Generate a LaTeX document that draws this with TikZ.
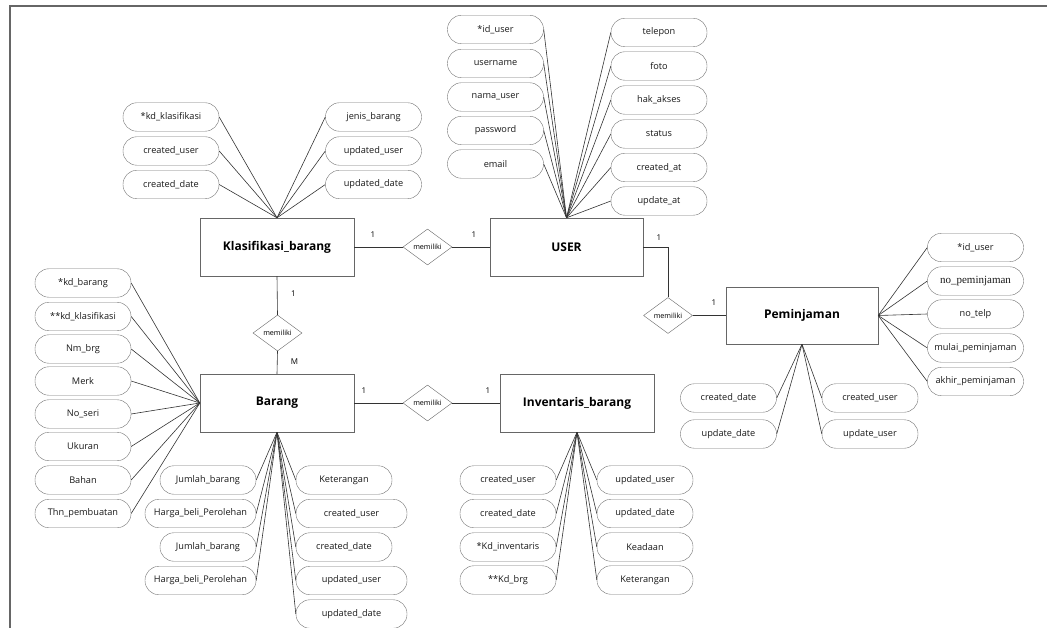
\documentclass[tikz,border=0pt]{standalone}
\usepackage{fontspec}
\setmainfont{Open Sans}
\newfontfamily\serifA{Liberation Serif}
\usetikzlibrary{shapes.geometric}
\begin{document}
\begin{tikzpicture}[x=1pt,y=-1pt,
 attr/.style={draw=black!55, rounded corners=14pt, minimum width=96pt, minimum height=28.5pt, inner sep=0pt, font=\fontsize{9.2}{10}\selectfont, text=black!90},
 wattr/.style={attr, minimum width=111pt},
 ent/.style={draw=black!60, minimum width=154pt, minimum height=58pt, inner sep=0pt, font=\bfseries\fontsize{12}{14}\selectfont},
 rel/.style={diamond, draw=black!60, minimum width=49pt, minimum height=36pt, inner sep=0pt, font=\fontsize{7.2}{8}\selectfont},
 ln/.style={draw=black!80, line width=0.6pt},
 card/.style={font=\fontsize{8}{9}\selectfont, inner sep=0pt}]
\useasboundingbox (0,0) rectangle (1047,628);
\coordinate (fa) at (10,628);
\coordinate (fb) at (10,6);
\coordinate (fc) at (1047,6);
\draw[black!60, line width=1.2pt] (fa) -- (fb) -- (fc);

% entities
\node[ent] (klas) at (277,247) {Klasifikasi\_barang};
\node[ent, minimum width=153pt] (user) at (566.5,247) {USER};
\node[ent] (barang) at (277,403) {Barang};
\node[ent] (inv) at (577,403) {Inventaris\_barang};
\node[ent, minimum width=152pt, minimum height=57pt] (pem) at (802,315.5) {Peminjaman};

% relations
\node[rel] (r1) at (427.5,247) {memiliki};
\node[rel] (r2) at (277.5,333) {memiliki};
\node[rel] (r3) at (427.5,403) {memiliki};
\node[rel] (r4) at (668,315.5) {memiliki};

\draw[ln] (klas.east) -- (r1.west);
\draw[ln] (r1.east) -- (user.west);
\draw[ln] (klas.south) -- (r2.north);
\draw[ln] (r2.south) -- (barang.north);
\draw[ln] (barang.east) -- (r3.west);
\draw[ln] (r3.east) -- (inv.west);
\draw[ln] (user.east) -| (r4.north);
\draw[ln] (r4.east) -- (pem.west);

% cardinalities
\node[card] (c1) at (373,235) {1};
\node[card] (c2) at (474,235) {1};
\node[card] (c3) at (293.5,294) {1};
\node[card] (c4) at (294.5,362) {M};
\node[card] (c5) at (364,391) {1};
\node[card] (c6) at (488,391) {1};
\node[card] (c7) at (659,238) {1};
\node[card] (c8) at (714,303) {1};

% Klasifikasi attributes
\node[attr] (k1) at (171,117) {*kd\_klasifikasi};
\node[attr] (k2) at (171,151) {created\_user};
\node[attr] (k3) at (171,184.5) {created\_date};
\node[attr] (k4) at (373.5,117) {jenis\_barang};
\node[attr] (k5) at (373.5,151) {updated\_user};
\node[attr] (k6) at (373.5,184.5) {updated\_date};
\foreach \a in {k1,k2,k3} \draw[ln] (\a.east) -- (klas.north);
\foreach \a in {k4,k5,k6} \draw[ln] (\a.west) -- (klas.north);

% USER attributes
\node[attr] (u1) at (495.5,29.5) {*id\_user};
\node[attr] (u2) at (495.5,63.5) {username};
\node[attr] (u3) at (495.5,97) {nama\_user};
\node[attr] (u4) at (495.5,130.5) {password};
\node[attr] (u5) at (495.5,164) {email};
\node[attr] (u6) at (659,32.5) {telepon};
\node[attr] (u7) at (659,66) {foto};
\node[attr] (u8) at (659,100) {hak\_akses};
\node[attr] (u9) at (659,134) {status};
\node[attr] (u10) at (659,167.5) {created\_at};
\node[attr] (u11) at (659,201) {update\_at};
\foreach \a in {u1,u2,u3,u4,u5} \draw[ln] (\a.east) -- (user.north);
\foreach \a in {u6,u7,u8,u9,u10,u11} \draw[ln] (\a.west) -- (user.north);

% Peminjaman attributes
\node[attr] (p1) at (975.5,247.5) {*id\_user};
\node[attr, font=\serifA\fontsize{11}{12}\selectfont] (p2) at (975.5,281) {no\_peminjaman};
\node[attr] (p3) at (975.5,314) {no\_telp};
\node[attr] (p4) at (975.5,348) {mulai\_peminjaman};
\node[attr] (p5) at (975.5,381.5) {akhir\_peminjaman};
\foreach \a in {p1,p2,p3,p4,p5} \draw[ln] (\a.west) -- (pem.east);
\node[attr] (p6) at (728.5,398) {created\_date};
\node[attr] (p7) at (728.5,434) {update\_date};
\node[attr] (p8) at (870,398) {created\_user};
\node[attr] (p9) at (870,434) {update\_user};
\foreach \a in {p6,p7} \draw[ln] (\a.east) -- (pem.south);
\foreach \a in {p8,p9} \draw[ln] (\a.west) -- (pem.south);

% Barang attributes
\node[attr] (b1) at (83,283) {*kd\_barang};
\node[attr] (b2) at (83,316.5) {**kd\_klasifikasi};
\node[attr] (b3) at (83,349) {Nm\_brg};
\node[attr] (b4) at (83,381) {Merk};
\node[attr] (b5) at (83,414) {No\_seri};
\node[attr] (b6) at (83,446.5) {Ukuran};
\node[attr] (b7) at (83,480) {Bahan};
\node[attr] (b8) at (83,513.5) {Thn\_pembuatan};
\foreach \a in {b1,b2,b3,b4,b5,b6,b7,b8} \draw[ln] (\a.east) -- (barang.west);
\node[attr] (b9) at (208,480) {Jumlah\_barang};
\node[wattr] (b10) at (200.5,513.5) {Harga\_beli\_Perolehan};
\node[attr] (b11) at (208,547) {Jumlah\_barang};
\node[wattr] (b12) at (200.5,580.5) {Harga\_beli\_Perolehan};
\foreach \a in {b9,b10,b11,b12} \draw[ln] (\a.east) -- (barang.south);
\node[attr] (b13) at (344,480) {Keterangan};
\node[wattr] (b14) at (351.5,513.5) {created\_user};
\node[attr] (b15) at (344,547) {created\_date};
\node[wattr] (b16) at (351.5,580.5) {updated\_user};
\node[wattr] (b17) at (351.5,614) {updated\_date};
\foreach \a in {b13,b14,b15,b16,b17} \draw[ln] (\a.west) -- (barang.south);

% Inventaris attributes
\node[attr] (i1) at (508,480) {created\_user};
\node[attr] (i2) at (508,513.5) {created\_date};
\node[attr] (i3) at (508,547) {*Kd\_inventaris};
\node[attr] (i4) at (508,580) {**Kd\_brg};
\node[attr] (i5) at (645,480) {updated\_user};
\node[attr] (i6) at (645,513.5) {updated\_date};
\node[attr] (i7) at (645,547) {Keadaan};
\node[attr] (i8) at (645,580) {Keterangan};
\foreach \a in {i1,i2,i3,i4} \draw[ln] (\a.east) -- (inv.south);
\foreach \a in {i5,i6,i7,i8} \draw[ln] (\a.west) -- (inv.south);
\end{tikzpicture}
\end{document}
